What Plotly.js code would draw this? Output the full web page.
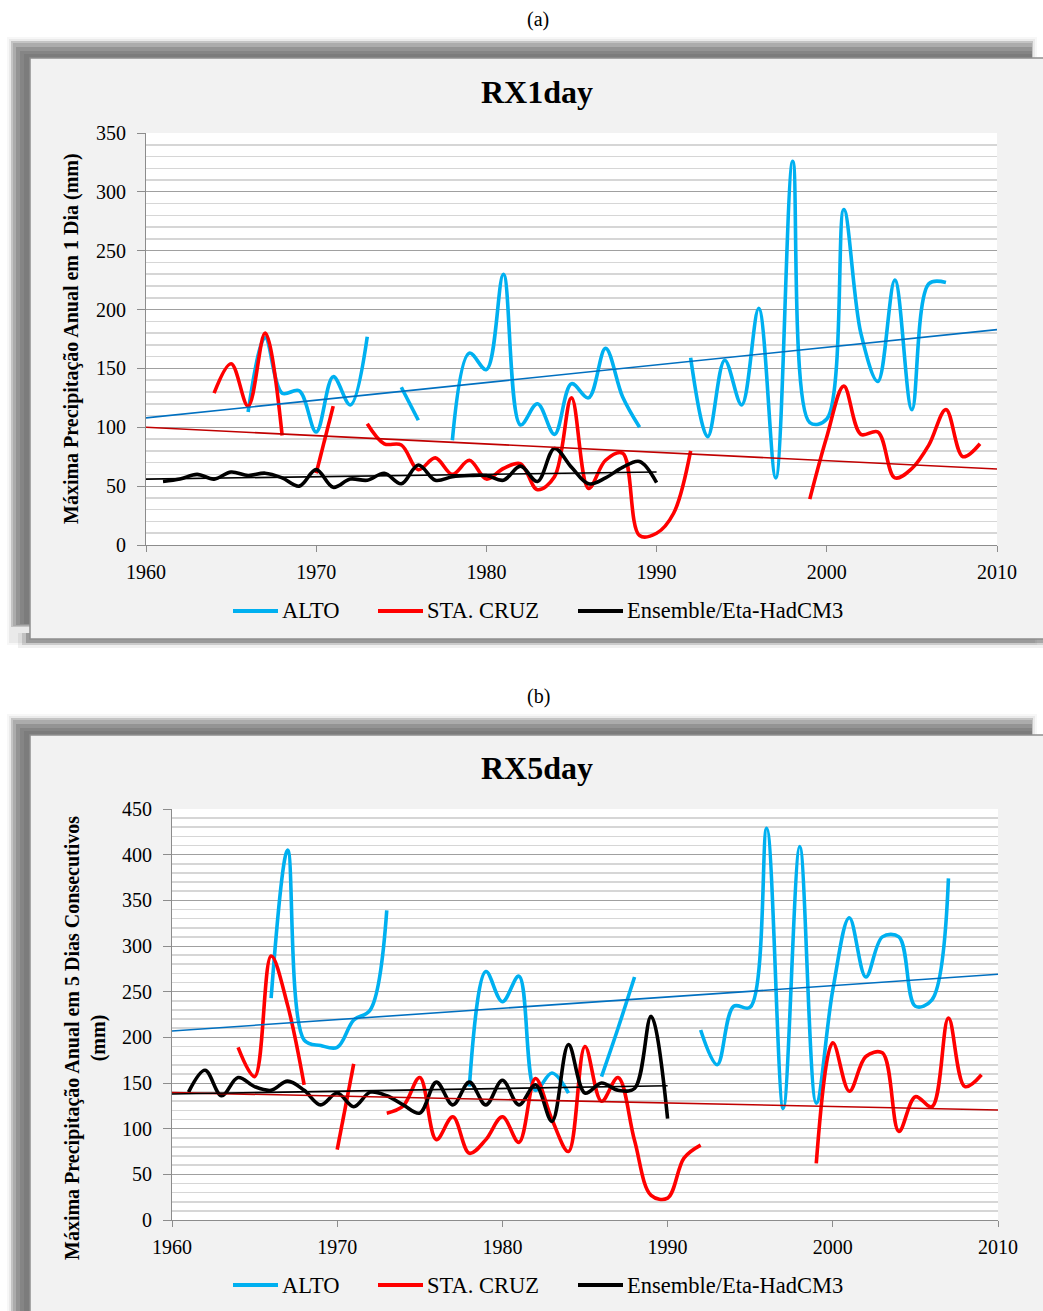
<!DOCTYPE html>
<html><head><meta charset="utf-8">
<script src="https://cdn.plot.ly/plotly-3.0.1.min.js"></script>
<style>html,body{margin:0;padding:0;background:#fff;}#chart{width:1043px;height:1311px;}</style>
</head><body><div id="chart"></div>
<script>
// ---------- DATA ----------
const seriesNames = ["ALTO", "STA. CRUZ", "Ensemble/Eta-HadCM3"];
const xTickVals = [1960, 1970, 1980, 1990, 2000, 2010];

// (a) RX1day
const altoYearsA = [1966,1967,1968,1969,1970,1971,1972,1973,1974,1975,1976,1977,1978,1979,1980,1981,1982,1983,1984,1985,1986,1987,1988,1989,1990,1991,1992,1993,1994,1995,1996,1997,1998,1999,2000,2001,2002,2003,2004,2005,2006,2007];
const altoA = [113,176,129,131,96,143,119,177,null,134,106,null,89,163,149,230,102,120,94,137,125,167,126,100,null,null,159,92,157,119,201,57,326,104,107,285,180,139,225,115,222,223];
const staYearsA = [1964,1965,1966,1967,1968,1969,1970,1971,1972,1973,1974,1975,1976,1977,1978,1979,1980,1981,1982,1983,1984,1985,1986,1987,1988,1989,1990,1991,1992,1993,1994,1995,1996,1997,1998,1999,2000,2001,2002,2003,2004,2005,2006,2007,2008,2009];
const staA = [129,154,118,180,93,null,61,118,null,103,86,85,64,74,60,72,56,65,69,47,58,125,48,72,78,8,10,27,80,null,null,null,null,null,null,39,92,135,94,96,57,65,85,115,75,86];
const ensYearsA = [1961,1962,1963,1964,1965,1966,1967,1968,1969,1970,1971,1972,1973,1974,1975,1976,1977,1978,1979,1980,1981,1982,1983,1984,1985,1986,1987,1988,1989,1990];
const ensA = [54,56,60,56,62,59,61,57,50,64,49,56,55,61,52,68,55,58,59,59,55,67,54,82,66,52,57,66,71,53];
const trendYearsFull = [1960, 2010];
const trendYearsEns = [1960, 1990];
const altoTrendA = [108, 183];
const staTrendA = [100, 64.5];
const ensTrendA = [56, 62];

// (b) RX5day
const altoYearsB = [1966,1967,1968,1969,1970,1971,1972,1973,1974,1975,1976,1977,1978,1979,1980,1981,1982,1983,1984,1985,1986,1987,1988,1989,1990,1991,1992,1993,1994,1995,1996,1997,1998,1999,2000,2001,2002,2003,2004,2005,2006,2007];
const altoB = [243,405,197,191,189,219,230,339,null,null,null,null,146,272,239,267,142,161,139,null,157,210,266,null,null,null,208,170,234,233,429,122,409,128,252,331,266,310,310,234,241,374];
const staYearsB = [1964,1965,1966,1967,1968,1969,1970,1971,1972,1973,1974,1975,1976,1977,1978,1979,1980,1981,1982,1983,1984,1985,1986,1987,1988,1989,1990,1991,1992,1993,1994,1995,1996,1997,1998,1999,2000,2001,2002,2003,2004,2005,2006,2007,2008,2009];
const staB = [189,157,289,235,148,null,77,171,null,117,125,156,88,113,73,88,113,85,155,110,75,190,130,156,87,27,24,68,82,null,null,null,null,null,null,62,194,141,179,183,97,135,124,221,146,159];
const ensYearsB = [1961,1962,1963,1964,1965,1966,1967,1968,1969,1970,1971,1972,1973,1974,1975,1976,1977,1978,1979,1980,1981,1982,1983,1984,1985,1986,1987,1988,1989,1990];
const ensB = [140,164,136,156,146,142,152,142,126,139,124,140,136,126,117,151,126,151,126,153,126,148,108,192,139,150,142,144,223,111];
const altoTrendB = [207, 269];
const staTrendB = [139.5, 120.5];
const ensTrendB = [138, 147];

// ---------- STYLE ----------
const W = 1043, H = 1311;
const C_ALTO = "#00B0F0", C_STA = "#FF0000", C_ENS = "#000000";
const C_ALTO_T = "#0070C0", C_STA_T = "#C00000";
const SERIF = "Liberation Serif, Times New Roman, serif";
const TICKF = "Liberation Serif, Times New Roman, serif";
const px = x => x / W;
const py = y => 1 - y / H;

function series(x, y, color, xa, ya) {
  return {x, y, xaxis: xa, yaxis: ya, type: "scatter", mode: "lines", connectgaps: false,
    line: {color, width: 3.6, shape: "spline", smoothing: 1}, showlegend: false, hoverinfo: "x+y"};
}
function trend(x, y, color, xa, ya, w) {
  return {x, y, xaxis: xa, yaxis: ya, type: "scatter", mode: "lines",
    line: {color, width: w}, showlegend: false, hoverinfo: "skip"};
}

const traces = [
  series(altoYearsA, altoA, C_ALTO, "x", "y"),
  series(staYearsA, staA, C_STA, "x", "y"),
  series(ensYearsA, ensA, C_ENS, "x", "y"),
  trend(trendYearsFull, altoTrendA, C_ALTO_T, "x", "y", 1.6),
  trend(trendYearsFull, staTrendA, C_STA_T, "x", "y", 1.6),
  trend(trendYearsEns, ensTrendA, C_ENS, "x", "y", 1.6),
  series(altoYearsB, altoB, C_ALTO, "x2", "y2"),
  series(staYearsB, staB, C_STA, "x2", "y2"),
  series(ensYearsB, ensB, C_ENS, "x2", "y2"),
  trend(trendYearsFull, altoTrendB, C_ALTO_T, "x2", "y2", 1.6),
  trend(trendYearsFull, staTrendB, C_STA_T, "x2", "y2", 1.6),
  trend(trendYearsEns, ensTrendB, C_ENS, "x2", "y2", 1.6)
];

function xAxis(d0, d1, anchor) {
  return {domain: [px(d0), px(d1)], anchor, range: [1960, 2010], tickvals: xTickVals,
    showgrid: false, zeroline: false, showline: true, linecolor: "#8c8c8c", linewidth: 1,
    ticks: "outside", ticklen: 6, tickcolor: "#8c8c8c", ticklabelstandoff: 3,
    tickfont: {family: TICKF, size: 20, color: "#000"}, fixedrange: true};
}
function yAxis(top, bottom, max, anchor) {
  return {domain: [py(bottom), py(top)], anchor, range: [0, max], dtick: 50, tick0: 0,
    showgrid: true, gridcolor: "#a0a0a0", gridwidth: 1,
    minor: {dtick: 10, showgrid: true, gridcolor: "#d6d6d6", gridwidth: 1.6},
    zeroline: false, showline: true, linecolor: "#8c8c8c", linewidth: 1,
    ticks: "outside", ticklen: 8, tickcolor: "#8c8c8c", ticklabelstandoff: 7,
    tickfont: {family: TICKF, size: 20, color: "#000"}, fixedrange: true};
}

const shapes = [];
function rect(x0, y0, x1, y1, fill, lineColor, lw) {
  shapes.push({type: "rect", xref: "paper", yref: "paper", layer: "below",
    x0: px(x0), x1: px(x1), y0: py(y1), y1: py(y0), fillcolor: fill,
    line: {color: lineColor || "rgba(0,0,0,0)", width: lw || 0}});
}
function panel(top, bottom) {
  rect(7, top - 21, 1037, bottom + 6, "rgba(0,0,0,0.03)");
  rect(9, top - 19, 1035, bottom + 4, "rgba(0,0,0,0.05)");
  rect(11, top - 17, 1033, bottom - 12, "#c4c4c4");
  rect(13, top - 15, 1032, bottom - 13, "#acacac");
  rect(16, top - 11, 1032, bottom - 14, "#949494");
  rect(20, top - 7, 1032, bottom - 15, "#858585");
  rect(24, top - 4, 1032, bottom - 15, "#7c7c7c");
  rect(18, bottom - 6, 1043, bottom + 9, "rgba(0,0,0,0.06)");
  rect(22, bottom - 6, 1043, bottom + 6, "rgba(0,0,0,0.12)");
  rect(26, bottom - 6, 1043, bottom + 4, "rgba(0,0,0,0.2)");
  rect(30, top, 1052, bottom, "#f2f2f2", "#8f8f8f", 1.5);
}
panel(58, 639);
panel(735, 1330);
shapes.push({type: "rect", xref: "x domain", yref: "y domain", layer: "below", x0: 0, x1: 1, y0: 0, y1: 1, fillcolor: "#ffffff", line: {width: 0}});
shapes.push({type: "rect", xref: "x2 domain", yref: "y2 domain", layer: "below", x0: 0, x1: 1, y0: 0, y1: 1, fillcolor: "#ffffff", line: {width: 0}});

const annotations = [];
function text(t, x, y, size, opts) {
  annotations.push(Object.assign({text: t, xref: "paper", yref: "paper", x: px(x), y: py(y),
    xanchor: "center", yanchor: "middle", showarrow: false,
    font: {family: SERIF, size, color: "#000"}}, opts || {}));
}
text("(a)", 538, 20, 20);
text("(b)", 538, 697, 20);
text("<b>RX1day</b>", 537, 92, 32);
text("<b>RX5day</b>", 537, 768, 32);
text("<b>Máxima Precipitação Anual em 1 Dia (mm)</b>", 72, 339, 20, {textangle: -90});
text("<b>Máxima Precipitação Anual em 5 Dias Consecutivos<br>(mm)</b>", 85, 1038, 20, {textangle: -90});

const legendColors = [C_ALTO, C_STA, C_ENS];
const legendX = [233, 378, 578];
function legend(yc) {
  seriesNames.forEach((name, i) => {
    shapes.push({type: "line", xref: "paper", yref: "paper", x0: px(legendX[i]), x1: px(legendX[i] + 45),
      y0: py(yc), y1: py(yc), line: {color: legendColors[i], width: 4}});
    text(name, legendX[i] + 47, yc, 22.5, {xanchor: "left"});
  });
}
legend(611);
legend(1285);

const layout = {
  width: W, height: H, autosize: false,
  margin: {l: 0, r: 0, t: 0, b: 0, pad: 0},
  paper_bgcolor: "#ffffff", plot_bgcolor: "rgba(0,0,0,0)",
  showlegend: false,
  xaxis: xAxis(146, 997, "y"),
  yaxis: yAxis(133, 545, 350, "x"),
  xaxis2: xAxis(172, 998, "y2"),
  yaxis2: yAxis(809, 1220, 450, "x2"),
  shapes, annotations
};
Plotly.newPlot("chart", traces, layout, {displayModeBar: false, staticPlot: true});
</script></body></html>
